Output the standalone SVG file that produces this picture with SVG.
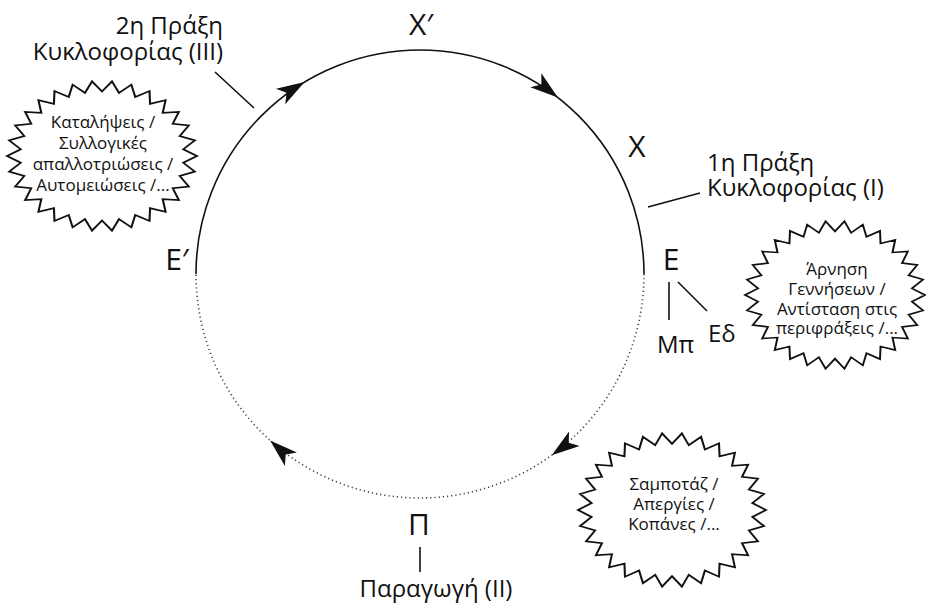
<svg xmlns="http://www.w3.org/2000/svg" width="926" height="606" viewBox="0 0 926 606">
<style>
text{font-family:"Open Sans","Noto Sans",sans-serif;fill:#111}
.lbl{font-size:24px}
.big{font-size:30px}
.sm{font-size:17px}
.burst{fill:#fff;stroke:#111;stroke-width:2.2;vector-effect:non-scaling-stroke;stroke-linejoin:miter}
.ln{stroke:#111;stroke-width:1.6;fill:none}
</style>
<defs>
<polygon id="star" points="100,0 85.5,9 97.8,20.8 81.8,26.6 91.4,40.7 74.5,43 80.9,58.8 63.9,57.5 66.9,74.3 50.6,69.6 50,86.6 35,78.6 30.9,95.1 17.9,84.1 10.5,99.5 0,86 -10.5,99.5 -17.9,84.1 -30.9,95.1 -35,78.6 -50,86.6 -50.6,69.6 -66.9,74.3 -63.9,57.5 -80.9,58.8 -74.5,43 -91.4,40.7 -81.8,26.6 -97.8,20.8 -85.5,9 -100,0 -85.5,-9 -97.8,-20.8 -81.8,-26.6 -91.4,-40.7 -74.5,-43 -80.9,-58.8 -63.9,-57.5 -66.9,-74.3 -50.6,-69.6 -50,-86.6 -35,-78.6 -30.9,-95.1 -17.9,-84.1 -10.5,-99.5 0,-86 10.5,-99.5 17.9,-84.1 30.9,-95.1 35,-78.6 50,-86.6 50.6,-69.6 66.9,-74.3 63.9,-57.5 80.9,-58.8 74.5,-43 91.4,-40.7 81.8,-26.6 97.8,-20.8 85.5,-9"/>
<path id="ah" d="M0,0 L-28,-9 L-21,0 L-28,9 Z" fill="#111"/>
</defs>

<g id="connectors">
<path d="M196,274 A224,224 0 0 1 644,274" class="ln"/>
<path d="M644,274 A224,224 0 0 1 196,274" fill="none" stroke="#444" stroke-width="1.6" stroke-dasharray="1.2 3"/>
<use href="#ah" transform="translate(304.6,82) rotate(-31)"/>
<use href="#ah" transform="translate(557.9,97.5) rotate(38)"/>
<use href="#ah" transform="translate(551.7,455.2) rotate(144)"/>
<use href="#ah" transform="translate(270.1,440.5) rotate(222)"/>
<line x1="215" y1="72" x2="254" y2="108" class="ln"/>
<line x1="648" y1="207" x2="700" y2="193" class="ln"/>
<line x1="669" y1="282" x2="669" y2="320" class="ln"/>
<line x1="678" y1="282" x2="707" y2="311" class="ln"/>
<line x1="420" y1="547" x2="420" y2="572" class="ln"/>
</g>

<g id="node-X1"><text class="big" x="421" y="35" text-anchor="middle">Χ′</text></g>
<g id="node-X"><text class="big" x="637" y="157" text-anchor="middle">Χ</text></g>
<g id="node-E"><text class="big" x="671" y="270" text-anchor="middle">Ε</text></g>
<g id="node-E1"><text class="big" x="177" y="270" text-anchor="middle">Ε′</text></g>
<g id="node-P"><text class="big" x="419" y="535" text-anchor="middle">Π</text></g>
<g id="node-Mp"><text class="lbl" x="657" y="353">Μπ</text></g>
<g id="node-Ed"><text class="lbl" x="708" y="342">Εδ</text></g>

<g id="label-III">
<text class="lbl" x="223" y="34" text-anchor="end">2η Πράξη</text>
<text class="lbl" x="223" y="60" text-anchor="end">Κυκλοφορίας (III)</text>
</g>
<g id="label-I">
<text class="lbl" x="707" y="171">1η Πράξη</text>
<text class="lbl" x="707" y="196">Κυκλοφορίας (I)</text>
</g>
<g id="label-II"><text class="lbl" x="436" y="597" text-anchor="middle">Παραγωγή (ΙΙ)</text></g>

<g id="burst-left">
<use href="#star" class="burst" transform="translate(102,156) scale(0.95,0.75)"/>
<text class="sm" x="103" y="128" text-anchor="middle">Καταλήψεις /</text>
<text class="sm" x="103" y="149" text-anchor="middle">Συλλογικές</text>
<text class="sm" x="103" y="170" text-anchor="middle">απαλλοτριώσεις /</text>
<text class="sm" x="103" y="191" text-anchor="middle">Αυτομειώσεις /...</text>
</g>
<g id="burst-right">
<use href="#star" class="burst" transform="translate(835,295) scale(0.9,0.74)"/>
<text class="sm" x="837" y="275" text-anchor="middle">Άρνηση</text>
<text class="sm" x="837" y="295" text-anchor="middle">Γεννήσεων /</text>
<text class="sm" x="837" y="315" text-anchor="middle">Αντίσταση στις</text>
<text class="sm" x="837" y="334" text-anchor="middle">περιφράξεις /...</text>
</g>
<g id="burst-bottom">
<use href="#star" class="burst" transform="translate(672,510) scale(0.94,0.77)"/>
<text class="sm" x="674" y="490" text-anchor="middle">Σαμποτάζ /</text>
<text class="sm" x="674" y="510" text-anchor="middle">Απεργίες /</text>
<text class="sm" x="674" y="530" text-anchor="middle">Κοπάνες /...</text>
</g>
</svg>
